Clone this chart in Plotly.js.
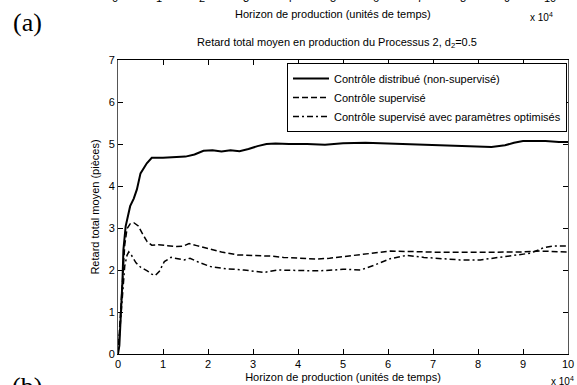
<!DOCTYPE html>
<html>
<head>
<meta charset="utf-8">
<script src="https://cdn.plot.ly/plotly-3.0.1.min.js"></script>
<style>html,body{margin:0;padding:0;background:#fff;}#chart{width:577px;height:385px;}</style>
</head>
<body>
<div id="chart"></div>
<script>
// x values in units of 10^4 time units
const xSolid = [0,0.03,0.05,0.07,0.1,0.12,0.17,0.27,0.35,0.42,0.5,0.64,0.75,1.0,1.3,1.5,1.7,1.9,2.1,2.3,2.5,2.7,2.9,3.1,3.3,3.5,3.8,4.2,4.6,5.0,5.5,6.0,6.5,7.0,7.5,8.0,8.3,8.6,8.8,9.0,9.5,9.8,10];
const ySolid = [0,0.2,0.65,1.0,1.76,2.48,3.04,3.52,3.7,3.92,4.3,4.54,4.67,4.67,4.68,4.7,4.75,4.84,4.85,4.82,4.85,4.83,4.88,4.95,5.0,5.01,5.0,5.0,4.98,5.02,5.03,5.01,5.0,4.97,4.95,4.93,4.93,4.97,5.03,5.07,5.07,5.05,5.05];

const xDash = [0,0.05,0.1,0.15,0.2,0.27,0.36,0.45,0.55,0.65,0.75,0.9,1.1,1.3,1.45,1.58,1.75,2.06,2.3,2.65,3.0,3.4,3.68,4.0,4.43,4.7,5.0,5.4,6.05,6.5,7.16,8.0,8.64,9.0,9.38,10];
const yDash = [0,0.8,1.8,2.6,2.98,3.1,3.12,3.05,2.85,2.67,2.59,2.6,2.58,2.56,2.57,2.63,2.58,2.49,2.43,2.36,2.35,2.33,2.3,2.28,2.26,2.28,2.32,2.37,2.45,2.44,2.42,2.42,2.42,2.43,2.45,2.43];

const xDashDot = [0,0.05,0.1,0.15,0.2,0.24,0.3,0.4,0.51,0.65,0.75,0.83,0.92,1.03,1.18,1.3,1.47,1.6,1.8,2.06,2.4,2.8,3.0,3.24,3.54,4.0,4.43,4.8,5.0,5.39,5.68,6.05,6.42,6.8,7.16,7.6,8.05,8.64,9.16,9.35,9.45,9.67,10];
const yDashDot = [0,0.7,1.5,2.1,2.35,2.43,2.35,2.17,2.06,1.98,1.9,1.87,1.97,2.2,2.3,2.27,2.24,2.28,2.18,2.08,2.03,2.0,1.97,1.94,2.0,1.99,1.98,2.0,2.02,2.0,2.11,2.27,2.35,2.3,2.27,2.24,2.24,2.32,2.4,2.48,2.53,2.57,2.57];

const seriesNames = ["Contrôle distribué (non-supervisé)", "Contrôle supervisé", "Contrôle supervisé avec paramètres optimisés"];
const xTicks = [0,1,2,3,4,5,6,7,8,9,10];
const yTicks = [0,1,2,3,4,5,6,7];
const prevTickLabels = ["0","1","2","3","4","5","6","7","8","9","10"];

const FONT = "Liberation Sans, Arial, sans-serif";

const traces = [
  {x: xSolid, y: ySolid, name: seriesNames[0], mode: "lines", line: {color: "#000", width: 2, dash: "solid"}},
  {x: xDash, y: yDash, name: seriesNames[1], mode: "lines", line: {color: "#000", width: 1.5, dash: "6px,3px"}},
  {x: xDashDot, y: yDashDot, name: seriesNames[2], mode: "lines", line: {color: "#000", width: 1.5, dash: "6px,3px,2px,3px"}}
];

const annotations = [];
// cut-off tick labels of the previous panel (a), as in the reference
prevTickLabels.forEach((t, i) => {
  annotations.push({xref: "paper", yref: "paper", x: (115 + 43.5 * i - 118) / 450, y: (354 - 6) / 294,
    xanchor: "center", yanchor: "bottom", text: t, showarrow: false, font: {family: FONT, size: 11, color: "#000"}});
});
annotations.push({xref: "paper", yref: "paper", x: (333 - 118) / 450, y: (354 - 14) / 294, xanchor: "center", yanchor: "middle",
  text: "Horizon de production (unités de temps)", showarrow: false, font: {family: FONT, size: 11, color: "#000"}});
annotations.push({xref: "paper", yref: "paper", x: (541 - 118) / 450, y: (354 - 17) / 294, xanchor: "center", yanchor: "middle",
  text: "x 10<sup>4</sup>", showarrow: false, font: {family: FONT, size: 10, color: "#000"}});
annotations.push({xref: "paper", yref: "paper", x: (562 - 118) / 450, y: (354 - 381) / 294, xanchor: "center", yanchor: "middle",
  text: "x 10<sup>4</sup>", showarrow: false, font: {family: FONT, size: 10, color: "#000"}});
annotations.push({xref: "paper", yref: "paper", x: (27 - 118) / 450, y: (354 - 22) / 294, xanchor: "center", yanchor: "middle",
  text: "(a)", showarrow: false, font: {family: "Liberation Serif, Times New Roman, serif", size: 26, color: "#000"}});
annotations.push({xref: "paper", yref: "paper", x: (27 - 118) / 450, y: (354 - 370) / 294, xanchor: "center", yanchor: "top",
  text: "(b)", showarrow: false, font: {family: "Liberation Serif, Times New Roman, serif", size: 26, color: "#000"}});

const layout = {
  width: 577, height: 385,
  margin: {l: 118, r: 9, t: 60, b: 31, pad: 0},
  paper_bgcolor: "#fff", plot_bgcolor: "#fff",
  font: {family: FONT, size: 11, color: "#000"},
  title: {text: "Retard total moyen en production du Processus 2, d<sub>2</sub>=0.5", x: 337 / 577, xref: "container", xanchor: "center",
    y: 1 - 42 / 385, yref: "container", yanchor: "middle", font: {family: FONT, size: 11, color: "#000"}},
  xaxis: {range: [0, 10], tickvals: xTicks, ticktext: xTicks.map(String), ticks: "inside", ticklen: 5, tickcolor: "#000",
    showline: true, linecolor: "#000", linewidth: 1, mirror: "ticks", showgrid: false, zeroline: false,
    tickfont: {family: FONT, size: 11, color: "#000"},
    title: {text: "Horizon de production (unités de temps)", standoff: 4, font: {family: FONT, size: 11, color: "#000"}}},
  yaxis: {range: [0, 7], tickvals: yTicks, ticktext: yTicks.map(String), ticks: "inside", ticklen: 5, tickcolor: "#000",
    showline: true, linecolor: "#555", linewidth: 1, mirror: "ticks", showgrid: false, zeroline: false,
    tickfont: {family: FONT, size: 11, color: "#000"},
    title: {text: "Retard total moyen (pièces)", standoff: 6, font: {family: FONT, size: 11, color: "#000"}}},
  showlegend: true,
  legend: {x: (567 - 118) / 450, xanchor: "right", y: (354 - 63) / 294, yanchor: "top", bgcolor: "#fff",
    bordercolor: "#000", borderwidth: 1, itemwidth: 36, font: {family: FONT, size: 11, color: "#000"}, tracegroupgap: 0},
  annotations: annotations
};

Plotly.newPlot("chart", traces, layout, {displayModeBar: false, staticPlot: true});
</script>
</body>
</html>
